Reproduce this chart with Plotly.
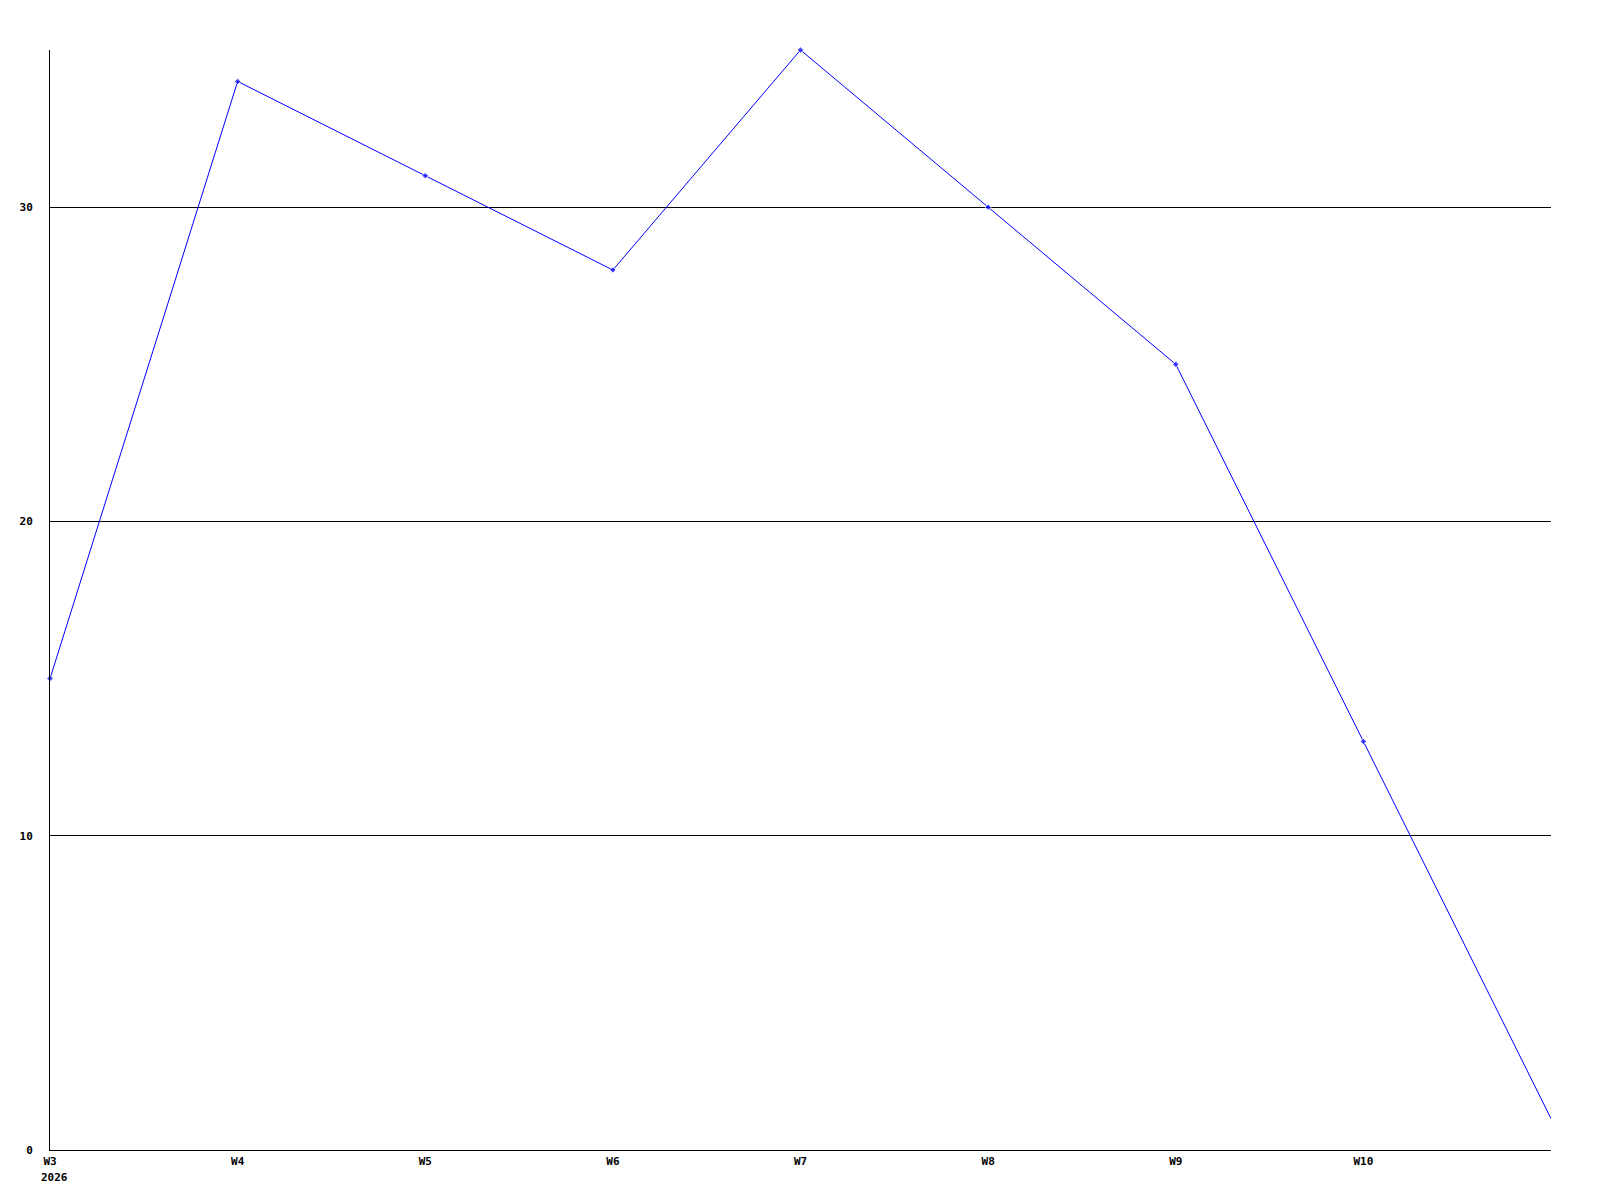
import plotly.graph_objects as go

weeks = ["W3", "W4", "W5", "W6", "W7", "W8", "W9", "W10", "W11"]
values = [15, 34, 31, 28, 35, 30, 25, 13, 1]
tick_labels = ["W3", "W4", "W5", "W6", "W7", "W8", "W9", "W10"]
year_label = "2026"
y_ticks = [0, 10, 20, 30]

x_idx = list(range(len(weeks)))

font_family = "DejaVu Sans Mono"

# last point sits on the plot edge and its marker is clipped in the reference
marker_sizes = [5] * (len(values) - 1) + [0]

fig = go.Figure()
fig.add_trace(go.Scatter(
    x=x_idx, y=values, mode="lines+markers",
    line=dict(color="#0000ff", width=1),
    marker=dict(color="#0000ff", size=marker_sizes, symbol="diamond"),
    cliponaxis=False, hoverinfo="y",
))

fig.update_layout(
    width=1600, height=1200,
    margin=dict(l=42, r=57, t=42, b=58),
    paper_bgcolor="white", plot_bgcolor="white",
    showlegend=False,
    font=dict(family=font_family, size=11, color="black", weight="bold"),
    xaxis=dict(
        range=[0, 8], tickvals=x_idx[:len(tick_labels)], ticktext=tick_labels,
        showgrid=False, zeroline=False, showline=True, linecolor="black", linewidth=1,
        ticks="", ticklabelstandoff=1,
        tickfont=dict(family=font_family, size=11, color="black", weight="bold"),
    ),
    yaxis=dict(
        range=[0, 35], tickvals=y_ticks, ticktext=[str(v) for v in y_ticks],
        showgrid=True, gridcolor="black", gridwidth=1, zeroline=False,
        showline=True, linecolor="black", linewidth=1,
        ticks="", ticklabelstandoff=14,
        tickfont=dict(family=font_family, size=11, color="black", weight="bold"),
    ),
)

fig.add_annotation(
    x=0, y=0, xref="x", yref="paper", text=year_label, showarrow=False,
    xanchor="left", yanchor="top", xshift=-11, yshift=-19,
    font=dict(family=font_family, size=11, color="black", weight="bold"),
)

fig.write_html("out.html")
